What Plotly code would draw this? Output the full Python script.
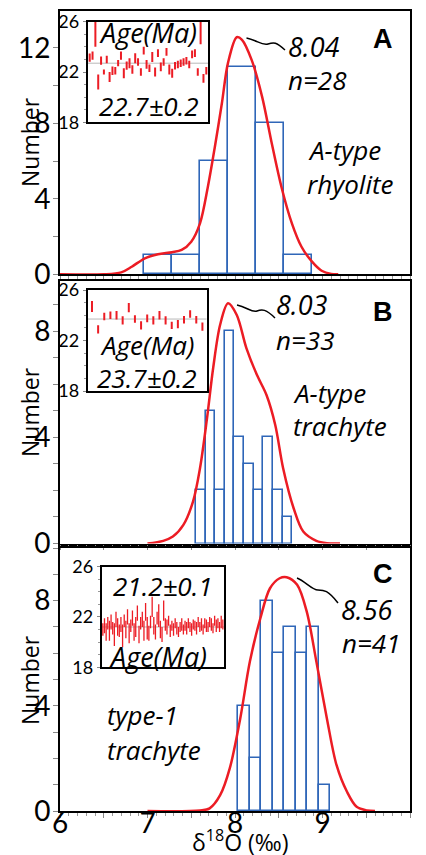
import plotly.graph_objects as go

W, H = 426, 855

# ---------------- data ----------------
# histograms (bin start, bin width, counts)
A_bin_start, A_bin_width = 6.96, 0.32
A_counts = [1, 1, 6, 11, 8, 1]
B_bin_start, B_bin_width = 7.554, 0.11
B_counts = [2, 5, 2, 8, 4, 3, 2, 4, 2, 1]
C_bin_start, C_bin_width = 8.038, 0.131
C_counts = [4, 2, 8, 6, 7, 6, 7, 1]

# probability curves
A_curve_x = [6.0, 6.5, 6.70, 6.82, 6.97, 7.12, 7.28, 7.39, 7.50, 7.60, 7.69, 7.77, 7.85, 7.92,
             8.02, 8.08, 8.19, 8.31, 8.42, 8.53, 8.65, 8.76, 8.88, 8.99, 9.10, 9.18]
A_curve_y = [0, 0, 0.1, 0.4, 0.85, 1.06, 1.17, 1.29, 1.73, 2.7, 4.64, 6.76, 9.06, 11.2,
             12.56, 12.42, 11.36, 9.4, 6.94, 4.64, 2.7, 1.46, 0.67, 0.19, 0.02, 0]
B_curve_x = [7.0, 7.18, 7.29, 7.41, 7.52, 7.60, 7.68, 7.75, 7.83, 7.92, 8.02, 8.13, 8.25,
             8.36, 8.46, 8.55, 8.67, 8.78, 8.93, 9.05, 9.2]
B_curve_y = [0, 0.1, 0.26, 0.7, 1.58, 2.84, 4.72, 6.61, 8.25, 9.06, 8.62, 7.37, 6.36,
             5.6, 4.47, 2.84, 1.33, 0.45, 0.1, 0.01, 0]
C_curve_x = [7.0, 7.6, 7.71, 7.83, 7.94, 8.06, 8.17, 8.29, 8.40, 8.51, 8.59, 8.71, 8.82,
             8.93, 9.05, 9.16, 9.28, 9.39, 9.51, 9.6]
C_curve_y = [0, 0.02, 0.1, 0.6, 1.62, 3.52, 5.68, 7.33, 8.47, 8.85, 8.89, 8.6, 7.58,
             5.68, 3.52, 1.75, 0.73, 0.16, 0.02, 0]

# inset zircon ages (Ma) with half error bars
A_age = [23.15, 23.3, 25.0, 21.2, 22.9, 22.0, 23.0, 21.6, 22.1, 22.1, 22.7, 23.3, 21.9, 22.5,
         22.7, 22.2, 23.1, 22.8, 22.0, 23.7, 22.6, 22.3, 23.2, 22.0, 23.5, 22.4, 22.8, 23.6,
         22.2, 21.9, 22.5, 22.6, 22.7, 22.8, 22.9, 22.6, 23.4, 23.5, 22.0, 25.1, 21.5, 22.1]
A_err = [0.33, 0.33, 1.0, 0.6, 0.33, 0.2, 0.3, 0.4, 0.33, 0.3, 0.25, 0.33, 0.4, 0.33,
         0.4, 0.33, 0.4, 0.3, 0.3, 0.3, 0.35, 0.3, 0.4, 0.35, 0.3, 0.35, 0.3, 0.3,
         0.4, 0.35, 0.3, 0.3, 0.3, 0.3, 0.3, 0.3, 0.3, 0.3, 0.3, 0.9, 0.35, 0.3]
B_age = [24.69, 22.88, 23.9, 24.0, 24.0, 23.6, 24.6, 23.7, 23.2, 23.75, 23.6, 24.0, 23.6,
         23.2, 23.3, 23.65, 24.1, 23.65, 23.1]
B_err = [0.44, 0.32, 0.3, 0.3, 0.33, 0.33, 0.37, 0.3, 0.33, 0.3, 0.33, 0.33, 0.33,
         0.28, 0.33, 0.3, 0.3, 0.3, 0.33]
C_age = [21.0, 21.3, 20.8, 21.5, 20.9, 21.6, 21.1, 20.6, 21.8, 21.2, 20.9, 21.4, 20.5, 21.7,
         21.0, 22.0, 20.7, 21.3, 21.9, 20.8, 21.2, 22.3, 20.6, 21.5, 21.8, 20.9, 22.4, 21.1,
         20.7, 21.6, 22.8, 21.3, 20.8, 21.9, 22.1, 21.0, 20.6, 22.5, 21.4, 21.2, 21.7, 20.9,
         21.3, 21.0, 21.5, 21.1, 20.8, 21.2, 21.4, 21.0, 21.3, 21.1, 21.5, 21.2, 21.0, 21.4,
         21.3, 21.1, 21.6, 21.2, 21.4, 21.0, 21.5, 21.3, 21.2, 21.6, 21.4, 21.1, 21.7, 21.3,
         21.5, 21.2, 21.6, 21.4]
C_err = [0.5, 0.6, 0.7, 0.5, 0.8, 0.6, 0.5, 0.9, 0.6, 0.7, 0.5, 0.6, 0.9, 0.5,
         0.7, 0.6, 0.8, 0.5, 0.6, 0.7, 0.8, 0.6, 0.7, 0.5, 0.6, 0.8, 0.7, 0.9,
         0.6, 0.5, 0.8, 0.7, 0.6, 0.5, 0.9, 0.7, 0.6, 0.8, 0.5, 0.6, 0.4, 0.5,
         0.4, 0.5, 0.4, 0.5, 0.4, 0.4, 0.5, 0.4, 0.4, 0.5, 0.4, 0.4, 0.5, 0.4,
         0.4, 0.5, 0.4, 0.4, 0.5, 0.4, 0.4, 0.5, 0.4, 0.4, 0.5, 0.4, 0.4, 0.5,
         0.4, 0.4, 0.5, 0.4]
A_mean, B_mean, C_mean = 22.7, 23.7, 21.2

x_tick_vals = [6, 6.5, 7, 7.5, 8, 8.5, 9, 9.5, 10]
x_tick_text = ["6", " ", "7", " ", "8", " ", "9", " ", "10"]

# ---------------- style ----------------
BLUE = "#2f66b8"
RED = "#ec1c24"
TICKFONT = "Lato"
TEXTFONT = "Open Sans"


def px(x):
    return x / W


def py(y):
    return 1 - y / H


fig = go.Figure()

panels = [
    ("", A_bin_start, A_bin_width, A_counts, A_curve_x, A_curve_y),
    ("2", B_bin_start, B_bin_width, B_counts, B_curve_x, B_curve_y),
    ("3", C_bin_start, C_bin_width, C_counts, C_curve_x, C_curve_y),
]
for suf, start, width, counts, cx, cy in panels:
    centers = [start + width * (i + 0.5) for i in range(len(counts))]
    fig.add_trace(go.Bar(x=centers, y=counts, width=width, xaxis="x" + suf, yaxis="y" + suf,
                         marker=dict(color="white", line=dict(color=BLUE, width=1.6)),
                         showlegend=False))
    fig.add_trace(go.Scatter(x=cx, y=cy, mode="lines", xaxis="x" + suf, yaxis="y" + suf,
                             line=dict(color=RED, width=2.5, shape="spline", smoothing=0.9),
                             showlegend=False))

insets = [("4", A_age, A_err, A_mean, 2.0), ("5", B_age, B_err, B_mean, 2.0),
          ("6", C_age, C_err, C_mean, 1.3)]
for suf, age, err, mean, th in insets:
    idx = list(range(1, len(age) + 1))
    fig.add_trace(go.Scatter(x=[0.3, len(age) + 0.7], y=[mean, mean], mode="lines",
                             xaxis="x" + suf, yaxis="y" + suf,
                             line=dict(color="#b8b8b8", width=1), showlegend=False))
    fig.add_trace(go.Scatter(x=idx, y=age, mode="markers", xaxis="x" + suf, yaxis="y" + suf,
                             marker=dict(size=1, color="rgba(0,0,0,0)"),
                             error_y=dict(type="data", array=err, color=RED, thickness=th, width=0),
                             showlegend=False))

main_x = dict(domain=[px(60), px(410)], range=[6, 10], showline=True, linecolor="black",
              linewidth=1.5, mirror=True, ticks="outside", ticklen=5, tickcolor="#888",
              tickvals=x_tick_vals, ticktext=x_tick_text, showgrid=False, zeroline=False,
              automargin=False,
              minor=dict(dtick=0.1, tick0=6, ticks="outside", ticklen=3, tickcolor="#999"),
              tickfont=dict(family=TICKFONT, size=28, color="black"))
main_y = dict(showline=True, linecolor="black", linewidth=2, mirror=True, ticks="outside",
              ticklen=5, tickcolor="#888", showgrid=False, zeroline=False, automargin=False,
              ticklabelstandoff=-3,
              tickfont=dict(family=TICKFONT, size=28, color="black"))

layout = dict(width=W, height=H, margin=dict(l=0, r=0, t=0, b=0, autoexpand=False),
              plot_bgcolor="white", paper_bgcolor="white", bargap=0,
              font=dict(family=TEXTFONT, color="black"))

layout["xaxis"] = dict(main_x, anchor="y", showticklabels=False)
layout["xaxis2"] = dict(main_x, anchor="y2", showticklabels=False)
layout["xaxis3"] = dict(main_x, anchor="y3", showticklabels=True, ticklabelstandoff=-18)
layout["yaxis"] = dict(main_y, anchor="x", domain=[py(274.3), py(11)], range=[0, 13.95],
                       tickvals=[0, 4, 8, 12],
                       minor=dict(dtick=2, tick0=0, ticks="outside", ticklen=5, tickcolor="#888"))
layout["yaxis2"] = dict(main_y, anchor="x2", domain=[py(543.5), py(281)], range=[0, 9.9],
                        tickvals=[0, 4, 8],
                        minor=dict(dtick=1, tick0=0, ticks="outside", ticklen=5, tickcolor="#888"))
layout["yaxis3"] = dict(main_y, anchor="x3", domain=[py(811), py(548)], range=[0, 10.0],
                        tickvals=[0, 4, 8],
                        minor=dict(dtick=1, tick0=0, ticks="outside", ticklen=5, tickcolor="#888"))

inset_geo = [("4", 87.7, 208.3, 21.7, 122.3, len(A_age)),
             ("5", 87.7, 206.7, 290, 391, len(B_age)),
             ("6", 101.7, 224, 566.5, 667.3, len(C_age))]
for suf, x0, x1, y0, y1, n in inset_geo:
    layout["xaxis" + suf] = dict(domain=[px(x0), px(x1)], anchor="y" + suf, range=[0.3, n + 0.7],
                                 showline=True, linecolor="black", linewidth=2, mirror=True,
                                 showticklabels=False, ticks="", showgrid=False, zeroline=False,
                                 automargin=False)
    layout["yaxis" + suf] = dict(domain=[py(y1), py(y0)], anchor="x" + suf, range=[18, 26],
                                 tickvals=[18, 22, 26], showline=True, linecolor="black",
                                 linewidth=2, mirror=True, ticks="outside", ticklen=3,
                                 tickcolor="#888", showgrid=False, zeroline=False,
                                 automargin=False,
                                 minor=dict(dtick=1, tick0=18, ticks="outside", ticklen=2,
                                            tickcolor="#999"),
                                 tickfont=dict(family=TICKFONT, size=18, color="black"))

fig.update_layout(**layout)


def ann(text, x, y, size, xanchor="left", italic=True, bold=False, family=TEXTFONT, angle=0):
    t = text
    if italic:
        t = "<i>" + t + "</i>"
    if bold:
        t = "<b>" + t + "</b>"
    fig.add_annotation(text=t, x=px(x), y=py(y), xref="paper", yref="paper",
                       xanchor=xanchor, yanchor="middle", showarrow=False, textangle=angle,
                       font=dict(family=family, size=size, color="black"))


# panel A
ann("8.04", 286, 46, 27)
ann("n=28", 286, 80, 26)
ann("A", 383, 39, 27, xanchor="center", italic=False, bold=True, family="Liberation Sans")
ann("A-type", 306, 150, 26)
ann("rhyolite", 305, 184, 26)
ann("Age(Ma)", 148, 32, 27, xanchor="center")
ann("22.7±0.2", 149, 106, 26, xanchor="center")
# panel B
ann("8.03", 274, 304, 27)
ann("n=33", 274, 340, 26)
ann("B", 383, 312, 27, xanchor="center", italic=False, bold=True, family="Liberation Sans")
ann("A-type", 291, 393, 26)
ann("trachyte", 291, 426, 26)
ann("Age(Ma)", 147, 345, 26, xanchor="center")
ann("23.7±0.2", 147, 378, 26, xanchor="center")
# panel C
ann("8.56", 339, 609, 27)
ann("n=41", 340, 643, 26)
ann("C", 383, 574, 27, xanchor="center", italic=False, bold=True, family="Liberation Sans")
ann("type-1", 105, 715, 26)
ann("trachyte", 105, 750, 26)
ann("21.2±0.1", 163, 586, 26, xanchor="center")
ann("Age(Ma)", 158, 656, 27, xanchor="center")
# axis titles
for yc in (142, 412, 680):
    ann("Number", 30, yc, 23, xanchor="center", italic=False, angle=-90)
ann("δ<sup>18</sup>O (‰)", 240, 841, 23, xanchor="center", italic=False)


def squiggle(pts):
    (a, b, c, d, e, f) = pts
    p = "M {},{} C {},{} {},{} {},{} S {},{} {},{}".format(
        px(a[0]), py(a[1]), px(b[0]), py(b[1]), px(c[0]), py(c[1]), px(d[0]), py(d[1]),
        px(e[0]), py(e[1]), px(f[0]), py(f[1]))
    fig.add_shape(type="path", path=p, xref="paper", yref="paper",
                  line=dict(color="black", width=1.5))


squiggle([(246.5, 38), (257, 40), (262, 46), (268, 44), (276, 42), (285, 50)])
squiggle([(237, 305), (247, 307), (252, 313), (257, 311), (266, 309), (275, 318)])
squiggle([(297, 578), (305, 581), (312, 590), (318, 590), (328, 590), (338, 603)])

fig.write_html("out.html", config={"displayModeBar": False},
               post_script="document.body.style.margin='0px';")
